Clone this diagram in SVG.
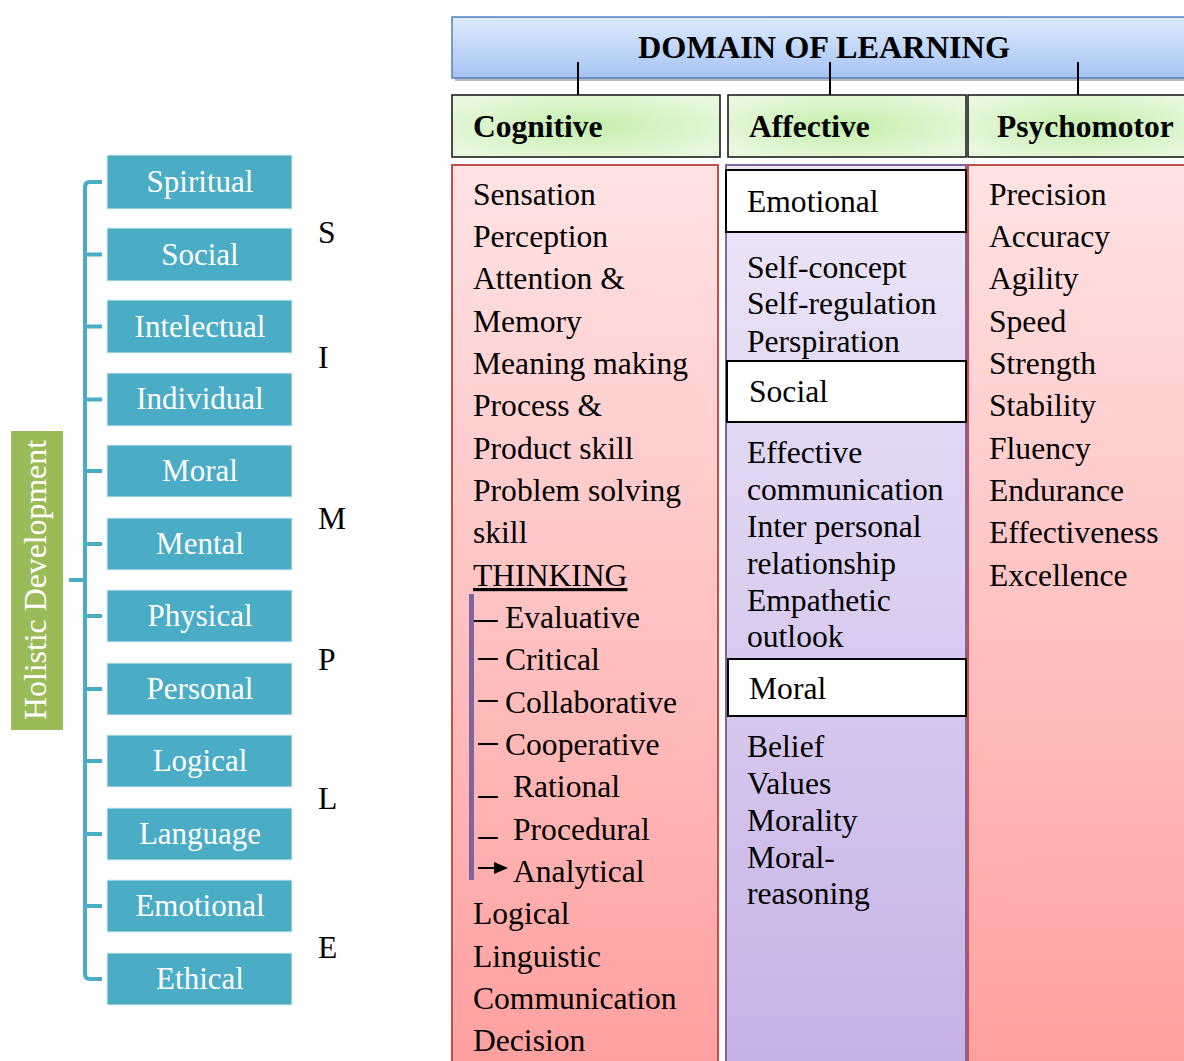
<svg xmlns="http://www.w3.org/2000/svg" width="1184" height="1061" viewBox="0 0 1184 1061">
<style>
.t{font-family:"Liberation Serif","Times New Roman",serif;fill:#000}
.w{font-family:"Liberation Serif","Times New Roman",serif;fill:#fff;font-size:31px;text-anchor:middle}
.hd{font-size:31.8px}
.b{font-family:"Liberation Serif","Times New Roman",serif;font-weight:bold;font-size:31.5px;fill:#000}
.big{font-size:32.3px}
.c{font-size:31.6px}
.box{fill:#4BACC6;stroke:#dff0f5;stroke-width:1}
.tree{fill:none;stroke:#4BACC6;stroke-width:4}
.hdr{fill:url(#gGreen);stroke:#111;stroke-width:1.5}
.sub{fill:#fff;stroke:#000;stroke-width:2}
.dash{stroke:#000;stroke-width:2}
</style>
<defs>
<linearGradient id="gBlue" x1="0" y1="0" x2="0" y2="1">
<stop offset="0" stop-color="#dfeafc"/><stop offset="1" stop-color="#a5c4f4"/>
</linearGradient>
<radialGradient id="gGreen" cx="0.5" cy="0.5" r="0.6">
<stop offset="0" stop-color="#c4eeab"/><stop offset="1" stop-color="#e8f8de"/>
</radialGradient>
<linearGradient id="gRed" gradientUnits="userSpaceOnUse" x1="0" y1="165" x2="0" y2="1061">
<stop offset="0" stop-color="#ffe3e3"/><stop offset="1" stop-color="#ffa0a0"/>
</linearGradient>
<linearGradient id="gPurple" gradientUnits="userSpaceOnUse" x1="0" y1="165" x2="0" y2="1061">
<stop offset="0" stop-color="#ede7f8"/><stop offset="1" stop-color="#c7b2e6"/>
</linearGradient>
</defs>

<g id="holistic">
<rect x="11" y="431" width="52" height="299" fill="#9BBB59"/>
<text class="w hd" transform="translate(46,580) rotate(-90)">Holistic Development</text>
</g>

<g id="n-spiritual"><rect class="box" x="107" y="155" width="185" height="54"/><text class="w" x="200" y="192">Spiritual</text></g>
<g id="n-social"><rect class="box" x="107" y="228" width="185" height="53"/><text class="w" x="200" y="265">Social</text></g>
<g id="n-intelectual"><rect class="box" x="107" y="300" width="185" height="53"/><text class="w" x="200" y="337">Intelectual</text></g>
<g id="n-individual"><rect class="box" x="107" y="373" width="185" height="53"/><text class="w" x="200" y="409">Individual</text></g>
<g id="n-moral"><rect class="box" x="107" y="445" width="185" height="52"/><text class="w" x="200" y="481">Moral</text></g>
<g id="n-mental"><rect class="box" x="107" y="518" width="185" height="52"/><text class="w" x="200" y="554">Mental</text></g>
<g id="n-physical"><rect class="box" x="107" y="590" width="185" height="52"/><text class="w" x="200" y="626">Physical</text></g>
<g id="n-personal"><rect class="box" x="107" y="663" width="185" height="52"/><text class="w" x="200" y="699">Personal</text></g>
<g id="n-logical"><rect class="box" x="107" y="735" width="185" height="52"/><text class="w" x="200" y="771">Logical</text></g>
<g id="n-language"><rect class="box" x="107" y="808" width="185" height="52"/><text class="w" x="200" y="844">Language</text></g>
<g id="n-emotional"><rect class="box" x="107" y="880" width="185" height="52"/><text class="w" x="200" y="916">Emotional</text></g>
<g id="n-ethical"><rect class="box" x="107" y="953" width="185" height="52"/><text class="w" x="200" y="989">Ethical</text></g>

<g id="simple" class="t c">
<text x="318" y="243">S</text>
<text x="318" y="368">I</text>
<text x="318" y="529">M</text>
<text x="318" y="670">P</text>
<text x="318" y="809">L</text>
<text x="318" y="958">E</text>
</g>

<g id="domain">
<rect x="455" y="21" width="740" height="60" fill="#8a8a8a" opacity="0.6"/>
<rect x="452" y="17" width="740" height="61" fill="url(#gBlue)" stroke="#4f81bd" stroke-width="1.5"/>
<text class="b big" x="824" y="58" text-anchor="middle">DOMAIN OF LEARNING</text>
</g>

<g id="h-cognitive"><rect class="hdr" x="452" y="95" width="268" height="62"/><text class="b" x="473" y="137">Cognitive</text></g>
<g id="h-affective"><rect class="hdr" x="728" y="95" width="238" height="62"/><text class="b" x="749" y="137">Affective</text></g>
<g id="h-psychomotor"><rect class="hdr" x="968" y="95" width="230" height="62"/><text class="b" x="997" y="137">Psychomotor</text></g>

<g id="col-cognitive">
<rect x="452" y="165" width="266" height="910" fill="url(#gRed)" stroke="#c0504d" stroke-width="2"/>
<g class="t c">
<text x="473" y="205">Sensation</text>
<text x="473" y="247">Perception</text>
<text x="473" y="289">Attention &amp;</text>
<text x="473" y="332">Memory</text>
<text x="473" y="374">Meaning making</text>
<text x="473" y="416">Process &amp;</text>
<text x="473" y="459">Product skill</text>
<text x="473" y="501">Problem solving</text>
<text x="473" y="543">skill</text>
<text x="473" y="586" text-decoration="underline">THINKING</text>
<text x="505" y="628">Evaluative</text>
<text x="505" y="670">Critical</text>
<text x="505" y="713">Collaborative</text>
<text x="505" y="755">Cooperative</text>
<text x="513" y="797">Rational</text>
<text x="513" y="840">Procedural</text>
<text x="513" y="882">Analytical</text>
<text x="473" y="924">Logical</text>
<text x="473" y="967">Linguistic</text>
<text x="473" y="1009">Communication</text>
<text x="473" y="1051">Decision</text>
</g>
<g id="thinking-tree">
<rect x="469" y="594" width="5" height="286" fill="#8064a2"/>
<path class="dash" d="M474,621 H498 M478,659 H498 M478,701 H498 M478,744 H498 M478,797 H498 M478,838 H498 M478,868 H496"/>
<polygon points="494,862 508,868 494,874" fill="#000"/>
</g>
</g>

<g id="col-affective">
<rect x="726" y="165" width="240" height="910" fill="url(#gPurple)" stroke="#8064a2" stroke-width="2"/>
<g id="a-emotional"><rect class="sub" x="726" y="170" width="240" height="62"/><text class="t c" x="747" y="212">Emotional</text></g>
<g class="t c">
<text x="747" y="278">Self-concept</text>
<text x="747" y="314">Self-regulation</text>
<text x="747" y="352">Perspiration</text>
</g>
<g id="a-social"><rect class="sub" x="727" y="361" width="239" height="61"/><text class="t c" x="749" y="402">Social</text></g>
<g class="t c">
<text x="747" y="463">Effective</text>
<text x="747" y="500">communication</text>
<text x="747" y="537">Inter personal</text>
<text x="747" y="574">relationship</text>
<text x="747" y="611">Empathetic</text>
<text x="747" y="647">outlook</text>
</g>
<g id="a-moral"><rect class="sub" x="728" y="659" width="238" height="57"/><text class="t c" x="749" y="699">Moral</text></g>
<g class="t c">
<text x="747" y="757">Belief</text>
<text x="747" y="794">Values</text>
<text x="747" y="831">Morality</text>
<text x="747" y="868">Moral-</text>
<text x="747" y="904">reasoning</text>
</g>
</g>

<g id="col-psychomotor">
<rect x="968" y="165" width="230" height="910" fill="url(#gRed)" stroke="#c0504d" stroke-width="2"/>
<g class="t c">
<text x="989" y="205">Precision</text>
<text x="989" y="247">Accuracy</text>
<text x="989" y="289">Agility</text>
<text x="989" y="332">Speed</text>
<text x="989" y="374">Strength</text>
<text x="989" y="416">Stability</text>
<text x="989" y="459">Fluency</text>
<text x="989" y="501">Endurance</text>
<text x="989" y="543">Effectiveness</text>
<text x="989" y="586">Excellence</text>
</g>
</g>

<g id="connectors">
<path class="tree" d="M102,182 H90 Q85,182 85,187 V974 Q85,979 90,979 H102"/>
<path class="tree" d="M85,254.5 H102 M85,326.5 H102 M85,399.5 H102 M85,471 H102 M85,544 H102 M85,616 H102 M85,689 H102 M85,761 H102 M85,834 H102 M85,906 H102 M69,580 H85"/>
<path d="M578,62 V95 M830,62 V95 M1078,62 V95" stroke="#000" stroke-width="2" fill="none"/>
</g>
</svg>
